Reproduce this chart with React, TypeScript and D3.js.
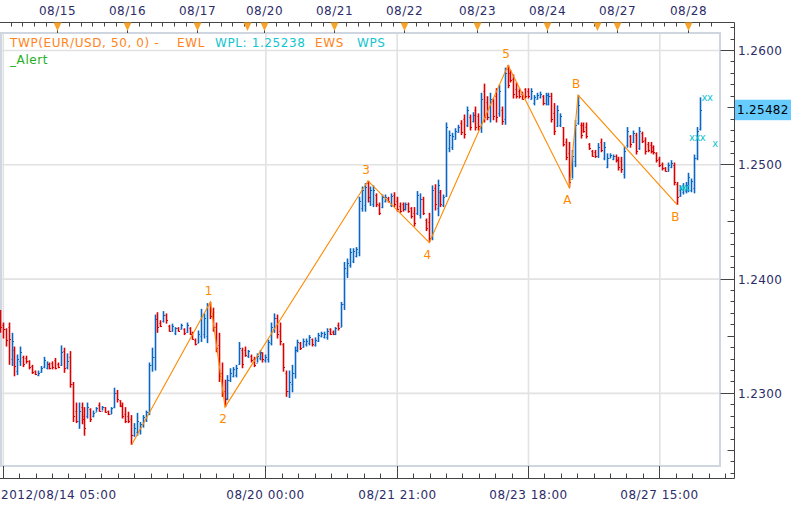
import React from 'react';
import * as d3 from 'd3';

// ---- OHLC data (EUR/USD hourly), bar index 0 = 2012/08/14 04:00 ----
const opens = [
  1.2371,1.2360,1.2356,1.2358,1.2330,1.2338,1.2320,1.2328,1.2332,1.2331,
  1.2328,1.2324,1.2320,1.2316,1.2319,1.2323,1.2322,1.2326,1.2327,1.2329,
  1.2326,1.2325,1.2337,1.2323,1.2332,1.2308,1.2285,1.2276,1.2288,1.2280,
  1.2280,1.2286,1.2280,1.2284,1.2290,1.2285,1.2288,1.2285,1.2282,1.2288,
  1.2300,1.2294,1.2290,1.2282,1.2280,1.2278,1.2264,1.2266,1.2268,1.2272,
  1.2278,1.2284,1.2325,1.2332,1.2365,1.2362,1.2363,1.2369,1.2359,1.2355,
  1.2353,1.2357,1.2356,1.2356,1.2354,1.2357,1.2352,1.2347,1.2344,1.2350,
  1.2352,1.2350,1.2378,1.2370,1.2358,1.2342,1.2318,1.2302,1.2296,1.2312,
  1.2315,1.2316,1.2326,1.2338,1.2338,1.2333,1.2333,1.2330,1.2327,1.2331,
  1.2335,1.2329,1.2330,1.2344,1.2356,1.2366,1.2355,1.2343,1.2318,1.2302,
  1.2308,1.2318,1.2338,1.2344,1.2341,1.2343,1.2344,1.2348,1.2342,1.2346,
  1.2350,1.2349,1.2349,1.2356,1.2354,1.2352,1.2360,1.2358,1.2378,1.2405,
  1.2412,1.2416,1.2420,1.2424,1.2462,1.2465,1.2484,1.2468,1.2466,1.2474,
  1.2465,1.2463,1.2468,1.2471,1.2465,1.2474,1.2468,1.2464,1.2466,1.2461,
  1.2466,1.2462,1.2458,1.2458,1.2456,1.2470,1.2452,1.2450,1.2437,1.2480,
  1.2462,1.2476,1.2465,1.2473,1.2515,1.2516,1.2523,1.2529,1.2537,1.2540,
  1.2535,1.2542,1.2538,1.2548,1.2543,1.2532,1.2565,1.2555,1.2542,1.2556,
  1.2560,1.2545,1.2548,1.2540,1.2584,1.2580,1.2575,1.2566,1.2565,1.2562,
  1.2566,1.2565,1.2558,1.2554,1.2558,1.2559,1.2560,1.2554,1.2553,1.2560,
  1.2545,1.2534,1.2535,1.2533,1.2520,1.2510,1.2488,1.2503,1.2537,1.2535,
  1.2535,1.2533,1.2518,1.2512,1.2511,1.2508,1.2520,1.2506,1.2498,1.2506,
  1.2505,1.2508,1.2505,1.2503,1.2492,1.2517,1.2525,1.2520,1.2526,1.2515,
  1.2528,1.2522,1.2518,1.2517,1.2516,1.2510,1.2505,1.2501,1.2497,1.2495,
  1.2498,1.2500,1.2483,1.2473,1.2476,1.2477,1.2478,1.2478,1.2480,1.2506,1.2531
];
const highs = [
  1.2373,1.2362,1.2357,1.2362,1.2353,1.2341,1.2334,1.2341,1.2333,1.2333,
  1.2329,1.2325,1.2320,1.2320,1.2324,1.2332,1.2328,1.2327,1.2328,1.2331,
  1.2327,1.2342,1.2340,1.2335,1.2337,1.2310,1.2292,1.2292,1.2292,1.2288,
  1.2292,1.2287,1.2285,1.2288,1.2292,1.2289,1.2288,1.2285,1.2288,1.2305,
  1.2303,1.2294,1.2292,1.2288,1.2284,1.2281,1.2274,1.2283,1.2275,1.2281,
  1.2285,1.2327,1.2340,1.2369,1.2371,1.2364,1.2372,1.2370,1.2360,1.2361,
  1.2358,1.2358,1.2361,1.2357,1.2362,1.2358,1.2354,1.2348,1.2355,1.2374,
  1.2370,1.2379,1.2380,1.2375,1.2362,1.2353,1.2327,1.2312,1.2316,1.2322,
  1.2323,1.2325,1.2345,1.2340,1.2341,1.2338,1.2334,1.2332,1.2335,1.2338,
  1.2336,1.2334,1.2347,1.2362,1.2370,1.2369,1.2362,1.2344,1.2320,1.2320,
  1.2325,1.2341,1.2347,1.2345,1.2348,1.2348,1.2351,1.2348,1.2349,1.2353,
  1.2354,1.2354,1.2357,1.2357,1.2355,1.2358,1.2362,1.2380,1.2415,1.2418,
  1.2427,1.2427,1.2428,1.2472,1.2481,1.2484,1.2486,1.2481,1.2482,1.2475,
  1.2467,1.2474,1.2474,1.2472,1.2475,1.2476,1.2472,1.2467,1.2467,1.2467,
  1.2467,1.2463,1.2463,1.2477,1.2475,1.2472,1.2453,1.2458,1.2482,1.2483,
  1.2487,1.2478,1.2474,1.2537,1.2530,1.2528,1.2532,1.2535,1.2539,1.2544,
  1.2551,1.2544,1.2546,1.2551,1.2545,1.2563,1.2571,1.2560,1.2563,1.2558,
  1.2567,1.2570,1.2551,1.2585,1.2587,1.2583,1.2579,1.2572,1.2567,1.2564,
  1.2567,1.2567,1.2567,1.2561,1.2563,1.2564,1.2561,1.2563,1.2563,1.2563,
  1.2554,1.2552,1.2545,1.2533,1.2523,1.2520,1.2513,1.2539,1.2561,1.2537,
  1.2537,1.2537,1.2519,1.2513,1.2513,1.2519,1.2523,1.2520,1.2510,1.2510,
  1.2509,1.2509,1.2507,1.2507,1.2516,1.2533,1.2526,1.2530,1.2528,1.2533,
  1.2529,1.2524,1.2520,1.2520,1.2517,1.2511,1.2507,1.2502,1.2498,1.2502,
  1.2504,1.2502,1.2485,1.2482,1.2484,1.2485,1.2493,1.2488,1.2509,1.2533,1.2559
];
const lows = [
  1.2353,1.2348,1.2341,1.2325,1.2324,1.2315,1.2316,1.2324,1.2323,1.2326,
  1.2321,1.2317,1.2316,1.2315,1.2318,1.2322,1.2321,1.2321,1.2321,1.2321,
  1.2322,1.2324,1.2318,1.2321,1.2305,1.2275,1.2274,1.2269,1.2273,1.2263,
  1.2278,1.2275,1.2279,1.2284,1.2284,1.2285,1.2283,1.2281,1.2282,1.2287,
  1.2292,1.2288,1.2278,1.2274,1.2274,1.2255,1.2262,1.2263,1.2264,1.2270,
  1.2275,1.2281,1.2319,1.2320,1.2353,1.2358,1.2362,1.2361,1.2354,1.2354,
  1.2351,1.2354,1.2356,1.2351,1.2353,1.2351,1.2347,1.2342,1.2344,1.2345,
  1.2348,1.2344,1.2365,1.2354,1.2336,1.2310,1.2297,1.2288,1.2294,1.2310,
  1.2314,1.2314,1.2325,1.2322,1.2332,1.2331,1.2327,1.2323,1.2327,1.2329,
  1.2327,1.2327,1.2327,1.2342,1.2353,1.2348,1.2342,1.2319,1.2297,1.2296,
  1.2301,1.2313,1.2336,1.2338,1.2340,1.2341,1.2342,1.2341,1.2341,1.2345,
  1.2349,1.2348,1.2347,1.2351,1.2351,1.2351,1.2355,1.2358,1.2373,1.2401,
  1.2410,1.2414,1.2419,1.2420,1.2459,1.2459,1.2467,1.2464,1.2463,1.2463,
  1.2456,1.2462,1.2467,1.2467,1.2463,1.2463,1.2459,1.2458,1.2459,1.2460,
  1.2458,1.2453,1.2446,1.2456,1.2453,1.2456,1.2442,1.2432,1.2434,1.2460,
  1.2455,1.2463,1.2463,1.2472,1.2511,1.2513,1.2522,1.2528,1.2526,1.2523,
  1.2533,1.2530,1.2537,1.2530,1.2530,1.2528,1.2537,1.2539,1.2537,1.2539,
  1.2537,1.2542,1.2535,1.2535,1.2567,1.2572,1.2558,1.2558,1.2558,1.2557,
  1.2558,1.2558,1.2557,1.2552,1.2557,1.2558,1.2552,1.2552,1.2552,1.2537,
  1.2526,1.2533,1.2533,1.2516,1.2504,1.2480,1.2488,1.2498,1.2535,1.2523,
  1.2528,1.2523,1.2513,1.2507,1.2506,1.2506,1.2511,1.2504,1.2497,1.2506,
  1.2504,1.2502,1.2495,1.2493,1.2488,1.2515,1.2515,1.2519,1.2509,1.2513,
  1.2519,1.2509,1.2511,1.2510,1.2509,1.2502,1.2498,1.2495,1.2494,1.2494,
  1.2497,1.2482,1.2465,1.2472,1.2474,1.2475,1.2476,1.2476,1.2475,1.2504,1.2530
];
const closes = [
  1.2358,1.2356,1.2347,1.2348,1.2346,1.2324,1.2330,1.2336,1.2326,1.2328,
  1.2323,1.2319,1.2317,1.2318,1.2322,1.2329,1.2326,1.2322,1.2323,1.2322,
  1.2323,1.2336,1.2322,1.2328,1.2308,1.2280,1.2276,1.2285,1.2278,1.2270,
  1.2288,1.2278,1.2283,1.2287,1.2285,1.2288,1.2284,1.2282,1.2287,1.2300,
  1.2295,1.2289,1.2280,1.2276,1.2276,1.2264,1.2270,1.2276,1.2273,1.2279,
  1.2284,1.2325,1.2332,1.2365,1.2358,1.2359,1.2369,1.2364,1.2355,1.2359,
  1.2357,1.2355,1.2360,1.2353,1.2360,1.2352,1.2348,1.2343,1.2352,1.2368,
  1.2366,1.2377,1.2368,1.2358,1.2340,1.2315,1.2300,1.2295,1.2312,1.2318,
  1.2321,1.2322,1.2340,1.2326,1.2334,1.2337,1.2329,1.2325,1.2333,1.2336,
  1.2330,1.2332,1.2345,1.2358,1.2366,1.2352,1.2346,1.2323,1.2302,1.2310,
  1.2318,1.2338,1.2345,1.2340,1.2346,1.2346,1.2349,1.2343,1.2347,1.2351,
  1.2353,1.2352,1.2355,1.2352,1.2352,1.2357,1.2357,1.2378,1.2410,1.2414,
  1.2424,1.2425,1.2426,1.2468,1.2478,1.2481,1.2472,1.2478,1.2478,1.2466,
  1.2458,1.2472,1.2472,1.2468,1.2473,1.2466,1.2461,1.2460,1.2461,1.2466,
  1.2460,1.2455,1.2449,1.2474,1.2470,1.2458,1.2445,1.2436,1.2478,1.2466,
  1.2482,1.2466,1.2472,1.2533,1.2526,1.2525,1.2530,1.2533,1.2529,1.2527,
  1.2548,1.2533,1.2544,1.2533,1.2534,1.2558,1.2542,1.2542,1.2558,1.2543,
  1.2542,1.2565,1.2538,1.2580,1.2570,1.2574,1.2562,1.2560,1.2560,1.2558,
  1.2560,1.2560,1.2565,1.2559,1.2561,1.2562,1.2554,1.2561,1.2560,1.2540,
  1.2530,1.2548,1.2543,1.2518,1.2507,1.2485,1.2508,1.2535,1.2552,1.2526,
  1.2530,1.2525,1.2515,1.2508,1.2508,1.2516,1.2513,1.2516,1.2506,1.2509,
  1.2508,1.2504,1.2498,1.2496,1.2512,1.2530,1.2518,1.2528,1.2512,1.2530,
  1.2521,1.2512,1.2513,1.2512,1.2511,1.2504,1.2500,1.2497,1.2495,1.2500,
  1.2502,1.2485,1.2472,1.2479,1.2481,1.2482,1.2489,1.2486,1.2506,1.2530,1.25482
];

// ---- axes ----
const bottomLabels = ['2012/08/14 05:00', '08/20 00:00', '08/21 21:00', '08/23 18:00', '08/27 15:00'];
const bottomLabelBars = [1, 91, 136, 181, 226];
const dayLabels = ['08/15', '08/16', '08/17', '08/20', '08/21', '08/22', '08/23', '08/24', '08/27', '08/28'];
const dayStartBars = [20, 44, 68, 91, 115, 139, 164, 188, 212, 236];
const sessionMarkerBars = [20, 44, 68, 85, 91, 115, 139, 164, 188, 205, 212, 236];
const priceGrid = [1.26, 1.25, 1.24, 1.23];

// ---- Elliott wave overlay ----
const waveBars = [45, 72, 77, 126, 147, 174, 195, 198, 232];
const wavePrices = [1.2255, 1.2380, 1.2288, 1.2486, 1.2432, 1.2587, 1.2480, 1.2561, 1.2465];
const waveLabels = ['', '1', '2', '3', '4', '5', 'A', 'B', 'B'];

// ---- signal markers ----
const markerBars = [240.3, 236, 244, 232.3];
const markerPrices = [1.2559, 1.25238, 1.2519, 1.2480];
const markerTexts = ['xx', 'xxx', 'x', 'xxx'];

const lastPrice = 1.25482;

const W = 799, H = 507;
const FONT = 'DejaVu Sans, Verdana, sans-serif';
const AXIS_TXT = '#2c2c68';
const BLUE = '#0866c6';
const RED = '#dc0000';
const ORANGE = '#ff8a00';
const CYAN = '#12c4cf';

export default function App() {
  const x = d3.scaleLinear().domain([1, 226]).range([3.3, 659.8]);
  const y = d3.scaleLinear().domain([1.23, 1.26]).range([393.4, 50.5]);
  const half = (x(2) - x(1)) / 2;
  const plot = { l: 1, t: 33, r: 720, b: 466 };
  const axisX = 734.5, topY = 22.5, botY = 478.5;

  const pTicks = d3.range(1223, 1263).map((v) => v / 1000);
  const topMinor: number[] = [];
  for (let k = dayStartBars[0] - 4; k >= 0; k -= 4) topMinor.push(k);
  dayStartBars.forEach((d, i) => {
    const next = i < dayStartBars.length - 1 ? dayStartBars[i + 1] : 246;
    for (let k = d + 4; k < next - 1; k += 4) topMinor.push(k);
  });
  const botMinor: number[] = [];
  for (let k = 1; x(k) < axisX; k += 45 / 8) botMinor.push(k);

  const snap = (v: number) => Math.round(v) + 0.5;

  const wavePath = d3.line<number>()
    .x((_, i) => x(waveBars[i]))
    .y((p) => y(p))(wavePrices) || '';

  return (
    <svg width={W} height={H} style={{ position: 'fixed', left: 0, top: 0, background: '#fff' }}
      fontFamily={FONT}>
      <defs>
        <clipPath id="plotclip">
          <rect x={0} y={plot.t} width={plot.r} height={plot.b - plot.t} />
        </clipPath>
      </defs>
      <rect x={0} y={0} width={W} height={H} fill="#fff" />

      {bottomLabelBars.map((k) => (
        <line key={'vg' + k} x1={x(k)} x2={x(k)} y1={plot.t} y2={plot.b} stroke="#e2e2e2" strokeWidth={1.6} />
      ))}
      {priceGrid.map((p) => (
        <line key={'hg' + p} x1={plot.l} x2={plot.r} y1={y(p)} y2={y(p)} stroke="#e2e2e2" strokeWidth={1.6} />
      ))}
      <rect x={plot.l} y={plot.t} width={plot.r - plot.l} height={plot.b - plot.t}
        fill="none" stroke="#cfd6df" strokeWidth={2} />

      <g clipPath="url(#plotclip)">
        {opens.map((o, i) => {
          const c = closes[i];
          const col = c >= o ? BLUE : RED;
          const cx = snap(x(i) - 0.5);
          return (
            <g key={'b' + i} stroke={col}>
              <line x1={cx} x2={cx} y1={y(highs[i])} y2={y(lows[i])} strokeWidth={1.6} />
              <line x1={cx - 1} x2={cx} y1={snap(y(o))} y2={snap(y(o))} strokeWidth={1} />
              <line x1={cx} x2={cx + 1.5} y1={snap(y(c))} y2={snap(y(c))} strokeWidth={1} />
            </g>
          );
        })}
        <path d={wavePath} fill="none" stroke={ORANGE} strokeWidth={1.1} />
      </g>
      {waveLabels.map((lab, i) => {
        if (!lab) return null;
        const prev = wavePrices[i - 1] ?? -Infinity;
        const isHigh = wavePrices[i] > prev;
        return (
          <text key={'wl' + i} x={x(waveBars[i]) - 2} y={y(wavePrices[i]) + (isHigh ? -11 : 12)}
            textAnchor="middle" dominantBaseline="central" fill={ORANGE} fontSize={12}>{lab}</text>
        );
      })}
      {markerTexts.map((t, i) => (
        <text key={'mk' + i} x={x(markerBars[i])} y={y(markerPrices[i])} dominantBaseline="central"
          fill={CYAN} fontSize={10} letterSpacing={i === 3 ? -3 : -0.5}>{t}</text>
      ))}

      <g fontSize={12} letterSpacing={0.6}>
        <text x={10} y={47} fill="#ff8420">TWP(EUR/USD, 50, 0) -</text>
        <text x={177} y={47} fill="#ff8420">EWL</text>
        <text x={215} y={47} fill={CYAN}>WPL: 1.25238</text>
        <text x={315} y={47} fill="#ff8420">EWS</text>
        <text x={357} y={47} fill={CYAN}>WPS</text>
        <text x={10} y={64} fill="#22b022">_Alert</text>
      </g>

      <line x1={0} x2={axisX} y1={topY} y2={topY} stroke="#444" strokeWidth={1} />
      {topMinor.map((k) => {
        const xx = snap(x(k) - half);
        return <line key={'tm' + k} x1={xx} x2={xx} y1={topY} y2={topY + 4} stroke="#444" strokeWidth={1} />;
      })}
      {dayStartBars.map((k, i) => {
        const xx = snap(x(k) - half);
        return (
          <g key={'ds' + k}>
            <line x1={xx} x2={xx} y1={topY} y2={plot.t} stroke="#444" strokeWidth={1} />
            <text x={xx} y={15} textAnchor="middle" fill={AXIS_TXT} fontSize={12} letterSpacing={0.5}>{dayLabels[i]}</text>
          </g>
        );
      })}
      {sessionMarkerBars.map((k) => {
        const xx = snap(x(k) - half);
        return (
          <path key={'sm' + k} d={`M${xx - 4},${topY} L${xx + 4},${topY} L${xx},${topY + 8.5} Z`}
            fill="#f7a52a" />
        );
      })}

      <line x1={0} x2={axisX} y1={botY} y2={botY} stroke="#444" strokeWidth={1} />
      {botMinor.map((k, i) => {
        const xx = snap(x(k) - 0.5);
        return <line key={'bm' + i} x1={xx} x2={xx} y1={botY - 5} y2={botY} stroke="#444" strokeWidth={1} />;
      })}
      {bottomLabelBars.map((k, i) => {
        const xx = snap(x(k) - 0.5);
        return (
          <g key={'bl' + k}>
            <line x1={xx} x2={xx} y1={plot.b} y2={botY} stroke="#444" strokeWidth={1} />
            <text x={i === 0 ? 1 : xx} y={499} textAnchor={i === 0 ? 'start' : 'middle'}
              fill={AXIS_TXT} fontSize={12} letterSpacing={0.5}>{bottomLabels[i]}</text>
          </g>
        );
      })}

      <line x1={axisX} x2={axisX} y1={topY} y2={botY} stroke="#444" strokeWidth={1} />
      {pTicks.map((p) => {
        const m = Math.round(p * 1000);
        const len = m % 10 === 0 ? 14 : m % 5 === 0 ? 7 : 4;
        const yy = snap(y(p) - 0.5);
        return <line key={'pt' + m} x1={axisX - len} x2={axisX} y1={yy} y2={yy} stroke="#444" strokeWidth={1} />;
      })}
      {priceGrid.map((p) => (
        <text key={'pl' + p} x={738} y={y(p) + 4.5} fill={AXIS_TXT} fontSize={12} letterSpacing={0.4}>
          {d3.format('.4f')(p)}
        </text>
      ))}
      <rect x={735} y={y(lastPrice) - 10} width={56} height={20.5} fill="#66ccff" />
      <text x={737} y={y(lastPrice) + 4.5} fill="#000" fontSize={12} letterSpacing={0.3}>
        {d3.format('.5f')(lastPrice)}
      </text>
    </svg>
  );
}
